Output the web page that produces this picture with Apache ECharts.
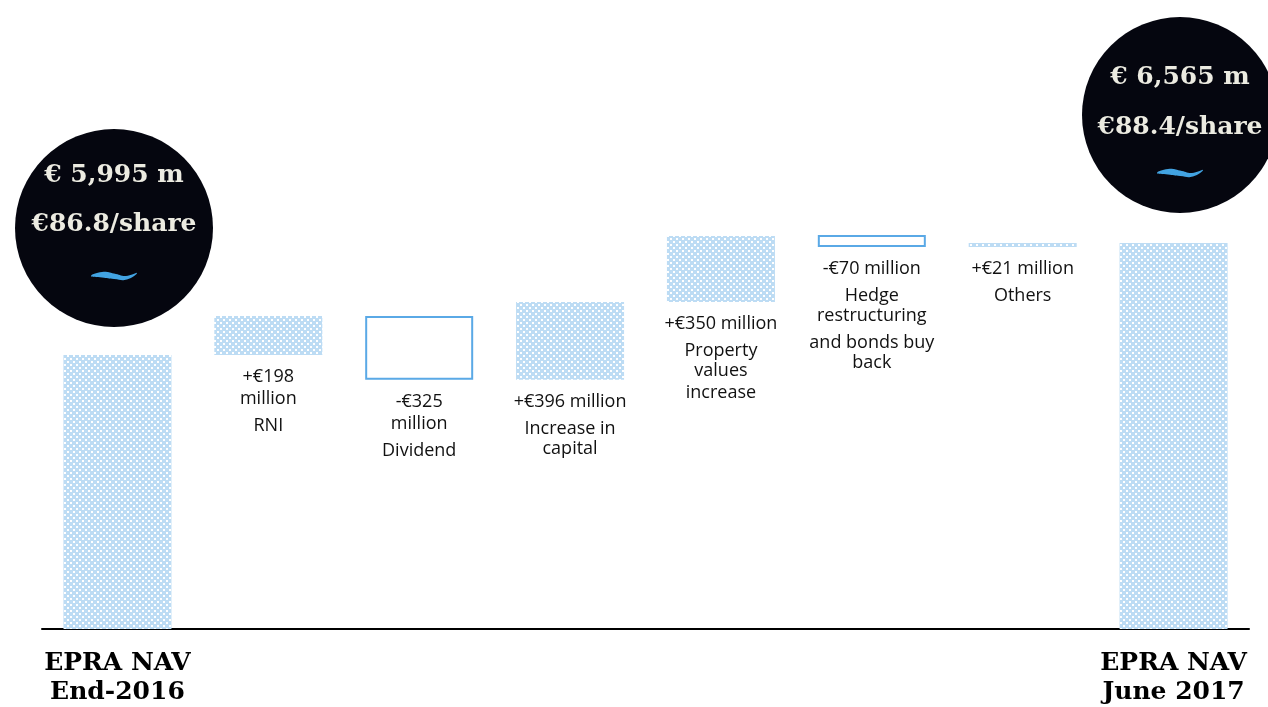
<!DOCTYPE html>
<html lang="en">
<head>
    <meta charset="utf-8">
    <title>EPRA NAV bridge</title>
    <script type="text/javascript" src="https://cdn.jsdelivr.net/npm/echarts@6/dist/echarts.min.js"></script>
    <style type="text/css">
        html, body {
            margin: 0;
            padding: 0;
            background: #ffffff;
        }

        #main {
            width: 1268px;
            height: 707px;
        }
    </style>
</head>
<body>
<div id="main"></div>
<script type="text/javascript">
    // data
    var categories = ['EPRA NAV\nEnd-2016', 'RNI', 'Dividend', 'Increase in capital', 'Property values increase',
        'Hedge restructuring and bonds buy back', 'Others', 'EPRA NAV\nJune 2017'];
    var startNav = 5995;
    var endNav = 6565;
    var changes = [198, -325, 396, 350, -70, 21];
    // label text: paragraphs, each one split in its wrapped lines
    var changeLabels = [
        [['+€198', 'million'], ['RNI']],
        [['-€325', 'million'], ['Dividend']],
        [['+€396 million'], ['Increase in', 'capital']],
        [['+€350 million'], ['Property', 'values', 'increase']],
        [['-€70 million'], ['Hedge', 'restructuring'], ['and bonds buy', 'back']],
        [['+€21 million'], ['Others']]
    ];
    var bubbleValues = ['€ 5,995 m', '€ 6,565 m'];
    var bubbleShares = ['€86.8/share', '€88.4/share'];

    // build waterfall arrays
    var baseData = [0];
    var upData = ['-'];
    var downData = ['-'];
    var totalData = [startNav];
    var running = startNav;
    for (var i = 0; i < changes.length; i++) {
        var next = running + changes[i];
        baseData.push(Math.min(running, next));
        totalData.push('-');
        if (changes[i] >= 0) {
            upData.push(changes[i]);
            downData.push('-');
        } else {
            upData.push('-');
            downData.push(-changes[i]);
        }
        running = next;
    }
    baseData.push(0);
    upData.push('-');
    downData.push('-');
    totalData.push(endNav);

    // dotted light blue fill
    function makePattern() {
        var c = document.createElement('canvas');
        c.width = 6;
        c.height = 6;
        var g = c.getContext('2d');
        g.fillStyle = '#bddcf4';
        g.fillRect(0, 0, 6, 6);
        g.fillStyle = '#ffffff';
        g.fillRect(1, 1, 2, 2);
        g.fillRect(4, 4, 2, 2);
        return c;
    }
    var patternFill = {image: makePattern(), repeat: 'repeat'};

    // wrapped lines sit closer than new paragraphs
    function changeLabel(params) {
        var paras = changeLabels[params.dataIndex - 1];
        if (!paras) {
            return '';
        }
        var lines = [];
        for (var p = 0; p < paras.length; p++) {
            for (var k = 0; k < paras[p].length; k++) {
                if (p > 0 && k === 0) {
                    lines.push('{s|\u200b}{t|' + paras[p][k] + '}');
                } else {
                    lines.push('{w|' + paras[p][k] + '}');
                }
            }
        }
        return lines.join('\n');
    }

    var labelText = {
        color: '#111111',
        fontFamily: 'Open Sans',
        fontSize: 18,
        lineHeight: 22
    };

    var labelStyle = {
        show: true,
        position: 'bottom',
        distance: 11,
        align: 'center',
        formatter: changeLabel,
        rich: {
            w: labelText,
            t: {
                color: '#111111',
                fontFamily: 'Open Sans',
                fontSize: 18,
                lineHeight: 22,
                verticalAlign: 'bottom'
            },
            s: {
                fontSize: 18,
                lineHeight: 25
            }
        }
    };

    // small blue wave inside the bubbles
    var wavePoints = [[0, 5], [11, 1], [23, 2.5], [35, 5], [46, 2], [36, 8.5], [23, 8], [11, 6.5]];

    function bubble(cx, cy, r, dy1, dy2, dyWave, idx) {
        return [{
            type: 'circle',
            shape: {cx: cx, cy: cy, r: r},
            style: {fill: '#05060f'}
        }, {
            type: 'text',
            x: cx,
            y: cy + dy1,
            style: {
                text: bubbleValues[idx],
                fill: '#ecebe1',
                font: 'bold 25px "DejaVu Serif"',
                align: 'center',
                verticalAlign: 'middle'
            }
        }, {
            type: 'text',
            x: cx,
            y: cy + dy2,
            style: {
                text: bubbleShares[idx],
                fill: '#ecebe1',
                font: 'bold 25px "DejaVu Serif"',
                align: 'center',
                verticalAlign: 'middle'
            }
        }, {
            type: 'polygon',
            x: cx - 23,
            y: cy + dyWave - 4,
            shape: {points: wavePoints, smooth: 0.5},
            style: {fill: '#42a3e2'}
        }];
    }

    var myChart = echarts.init(document.getElementById('main'));

    var option = {
        animation: false,
        grid: {
            left: 42,
            right: 19,
            top: 236,
            bottom: 77
        },
        xAxis: {
            type: 'category',
            data: categories,
            axisLine: {
                onZero: false,
                lineStyle: {color: '#000000', width: 2}
            },
            axisTick: {show: false},
            axisLabel: {
                interval: 0,
                margin: 20,
                color: '#000000',
                fontFamily: 'DejaVu Serif',
                fontWeight: 'bold',
                fontSize: 25,
                lineHeight: 29,
                formatter: function (value, index) {
                    return (index === 0 || index === categories.length - 1) ? value : '';
                }
            }
        },
        yAxis: {
            type: 'value',
            min: 4600,
            max: 6600,
            show: false,
            splitLine: {show: false}
        },
        series: [{
            name: 'base',
            type: 'bar',
            stack: 'w',
            barWidth: 108,
            silent: true,
            itemStyle: {color: 'transparent'},
            data: baseData
        }, {
            name: 'total',
            type: 'bar',
            stack: 'w',
            barWidth: 108,
            itemStyle: {color: patternFill},
            data: totalData
        }, {
            name: 'increase',
            type: 'bar',
            stack: 'w',
            barWidth: 108,
            itemStyle: {color: patternFill},
            label: labelStyle,
            data: upData
        }, {
            name: 'decrease',
            type: 'bar',
            stack: 'w',
            barWidth: 108,
            itemStyle: {color: '#ffffff', borderColor: '#5aa9e6', borderWidth: 2},
            label: labelStyle,
            data: downData
        }],
        graphic: bubble(114, 228, 99, -53, -4, 47, 0).concat(bubble(1180, 115, 98, -38, 12, 57, 1))
    };

    myChart.setOption(option);
</script>
</body>
</html>
